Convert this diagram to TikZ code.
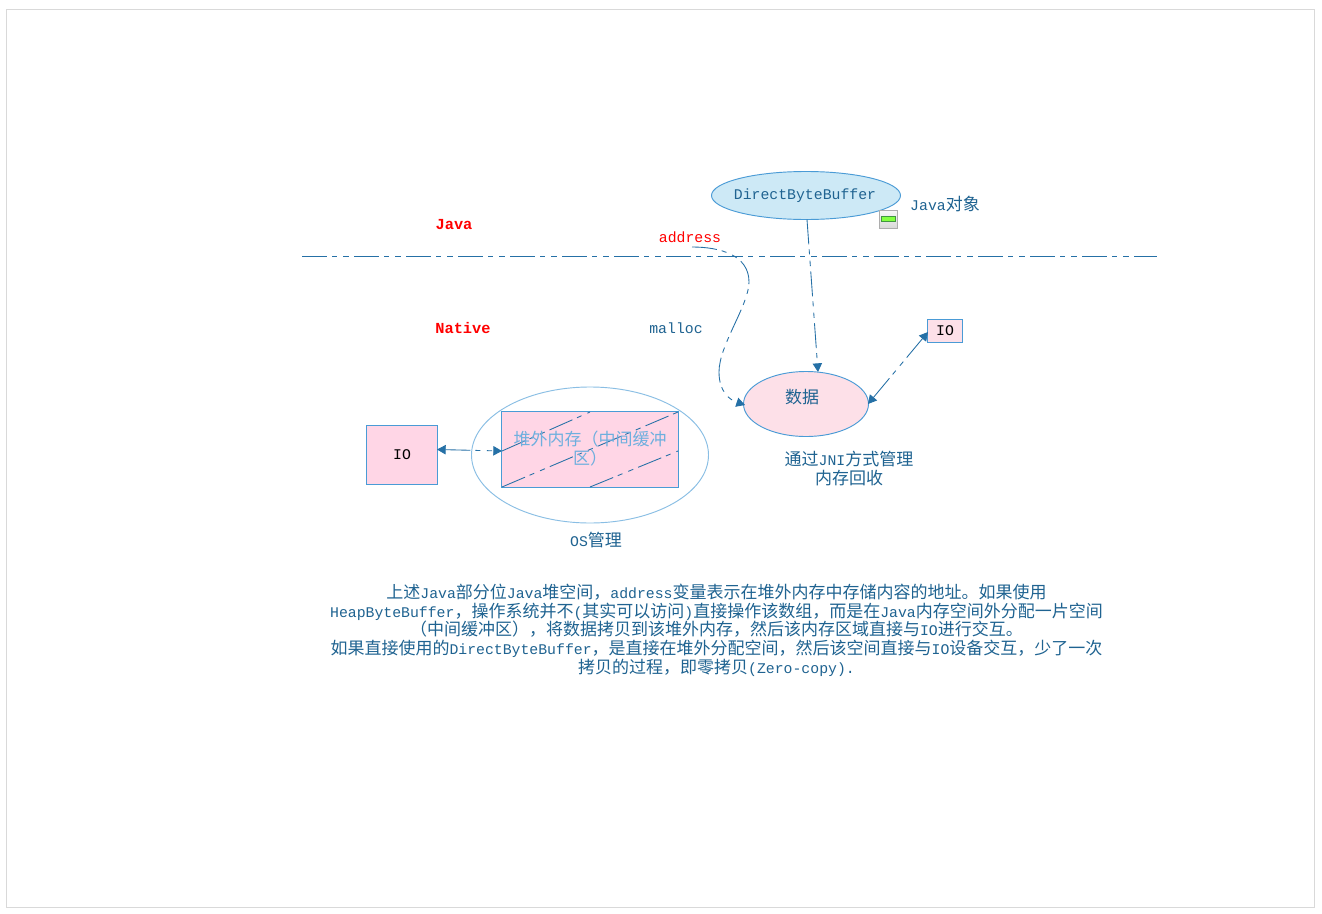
\documentclass[tikz,border=0pt]{standalone}
\usepackage{fontspec}
\usetikzlibrary{arrows.meta}
\setmainfont{Liberation Mono}
\newfontfamily\zhfont{Noto Sans CJK SC}
\newcommand{\zh}[1]{{\zhfont\fontsize{12.75pt}{14pt}\selectfont #1}}
\definecolor{txtblue}{HTML}{1F6391}
\definecolor{lineblue}{HTML}{2570A6}
\definecolor{edgeblue}{HTML}{4A9BD6}
\definecolor{pinkA}{HTML}{FFD6E6}
\definecolor{pinkB}{HTML}{FDE0E8}
\definecolor{skyfill}{HTML}{CDE9F6}
\tikzset{
  x=0.75pt,y=-0.75pt,
  lbl/.style={inner sep=0pt,text=txtblue,font=\fontsize{11.1pt}{14pt}\selectfont,align=center},
  blk/.style={lbl,text=black},
  redlbl/.style={lbl,text=red},
  redb/.style={inner sep=0pt,text=red,font=\fontsize{11.5pt}{14pt}\selectfont\bfseries},
  iobox/.style={draw=edgeblue,line width=0.7pt,inner sep=0pt},
  ddash/.style={draw=lineblue,line width=0.75pt,dash pattern=on 18.75pt off 3.75pt on 3.75pt off 4.75pt on 4pt off 4pt},
  conn/.style={ddash,line width=0.65pt},
  tip/.style={-{Triangle[length=6.5pt,width=7pt]}},
  tips/.style={{Triangle[length=6.5pt,width=7pt]}-{Triangle[length=6.5pt,width=7pt]}},
}
\begin{document}
\begin{tikzpicture}
\useasboundingbox (0,0) rectangle (1322,914);
\fill[white] (0,0) rectangle (1322,914);
\draw[draw=black!15,line width=0.7pt] (6.5,9.5) rectangle (1314.5,907);

% divider
\coordinate (divL) at (302,256);
\coordinate (divR) at (1157,256);
\draw[ddash] (divL) -- (divR);

% labels
\node[redb] (java) at (454,225) {Java};
\node[redb] (native) at (463,328) {Native};
\node[redlbl] (addr) at (690,237) {address};
\node[lbl] (malloc) at (676,328) {malloc};

% DirectByteBuffer ellipse
\fill[skyfill,draw=edgeblue,line width=0.7pt] (806,195.5) ellipse [x radius=94.5,y radius=24];
\node[lbl] (dbb) at (805,196) {DirectByteBuffer};
\node[lbl] (jobj) at (945,204) {Java\zh{对象}};

% icon
\node[draw=black!32,line width=0.7pt,top color=black!3,bottom color=black!15,minimum width=13.5pt,minimum height=13.5pt,inner sep=0pt] (icon) at (888,219) {};
\node[draw=green!45!black!75,fill=green!65!yellow!75,minimum width=10.2pt,minimum height=4.2pt,inner sep=0pt,line width=0.5pt] (iconbar) at (888.5,219) {};

% data ellipse
\fill[pinkB,draw=edgeblue,line width=0.7pt] (806,404) ellipse [x radius=62.5,y radius=32.5];
\node[lbl] (data) at (802,397) {\zh{数据}};
\coordinate (dataT) at (818,372);
\coordinate (dataL) at (745,405);
\coordinate (dataR) at (868,404);

% small IO
\node[iobox,fill=pinkB,minimum width=26.5pt,minimum height=17pt] (io2) at (945,331) {};
\node[blk] at (945,331) {IO};
\node[lbl] (jni) at (849,468.5) {\zh{通过}JNI\zh{方式管理}\\\zh{内存回收}};

% OS ellipse
\draw[draw=edgeblue!65,line width=0.7pt] (590,455) ellipse [x radius=118.5,y radius=68];
\node[lbl] (os) at (596,540) {OS\zh{管理}};

% heap box
\node[iobox,fill=pinkA,minimum width=132.5pt,minimum height=56.5pt] (heap) at (590,449.5) {};
\coordinate (h1) at (502,451);
\coordinate (h2) at (590,412);
\coordinate (h3) at (502,487);
\coordinate (h4) at (678,412);
\coordinate (h5) at (590,487);
\coordinate (h6) at (678,451);
\draw[conn] (h1) -- (h2);
\draw[conn] (h3) -- (h4);
\draw[conn] (h5) -- (h6);
\node[lbl,text=edgeblue!80,text width=125pt] (heapt) at (590,448.5) {\zh{堆外内存（中间缓冲}\\\zh{区）}};

% big IO
\node[iobox,fill=pinkA,minimum width=53.5pt,minimum height=44.5pt] (io1) at (402,455) {};
\node[blk] at (402,455) {IO};

% connectors
\coordinate (dbbB) at (807,219.5);
\draw[conn,tip] (dbbB) -- (dataT);
\coordinate (addrS) at (692,247);
\draw[conn,tip] (addrS) .. controls (720,247) and (749,255) .. (749,282) .. controls (749,305) and (719,345) .. (719,372) .. controls (719,392) and (730,400) .. (dataL);
\coordinate (io2L) at (928,332);
\draw[conn,tips] (dataR) -- (io2L);
\coordinate (io1R) at (437,449.5);
\draw[conn,tips] (io1R) -- (h1);

% paragraph
\node[lbl] (para) at (716.5,630.2) {%
\zh{上述}Java\zh{部分位}Java\zh{堆空间，}address\zh{变量表示在堆外内存中存储内容的地址。如果使用}\\
HeapByteBuffer\zh{，操作系统并不}(\zh{其实可以访问})\zh{直接操作该数组，而是在}Java\zh{内存空间外分配一片空间}\\
\zh{（中间缓冲区），将数据拷贝到该堆外内存，然后该内存区域直接与}IO\zh{进行交互。}\\
\zh{如果直接使用的}DirectByteBuffer\zh{，是直接在堆外分配空间，然后该空间直接与}IO\zh{设备交互，少了一次}\\
\zh{拷贝的过程，即零拷贝}(Zero-copy).};
\end{tikzpicture}
\end{document}
